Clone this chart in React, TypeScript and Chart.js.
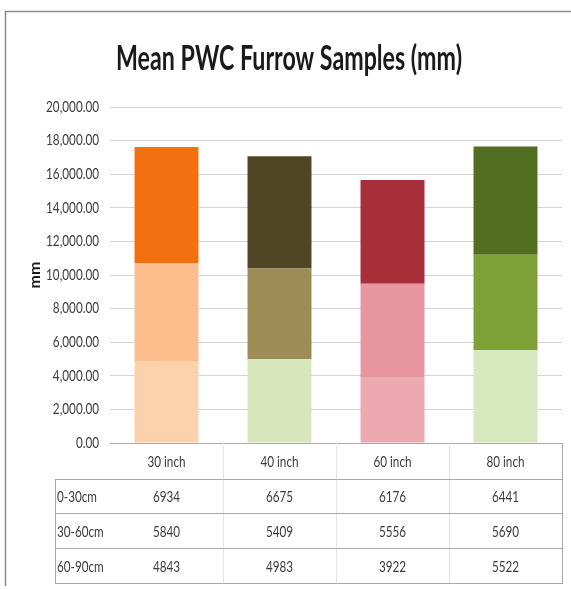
import React, { useEffect, useRef } from "react";
import { Chart, registerables } from "chart.js";

Chart.register(...registerables);

const chartTitle = "Mean PWC Furrow Samples (mm)";
const yAxisTitle = "mm";
const categories = ["30 inch", "40 inch", "60 inch", "80 inch"];
const seriesNames = ["0-30cm", "30-60cm", "60-90cm"];
const depth0to30 = [6934, 6675, 6176, 6441];
const depth30to60 = [5840, 5409, 5556, 5690];
const depth60to90 = [4843, 4983, 3922, 5522];

const colors0to30 = ["#F2700F", "#4E4624", "#A82F39", "#516E23"];
const colors30to60 = ["#FBBE8C", "#9E8C56", "#E8969F", "#7DA037"];
const colors60to90 = ["#FDD1AC", "#D8E7BB", "#ECAAB0", "#D7E8BE"];

const yMin = 0;
const yMax = 20000;
const yStep = 2000;

const FONT = "Lato, 'Open Sans', 'DejaVu Sans', sans-serif";
const TEXT_COLOR = "#3c3c3c";
const SQUEEZE = 0.78;

const tableRows = [
  { name: seriesNames[0], values: depth0to30 },
  { name: seriesNames[1], values: depth30to60 },
  { name: seriesNames[2], values: depth60to90 },
];

function drawSqueezed(
  ctx: CanvasRenderingContext2D,
  text: string,
  x: number,
  y: number,
  align: "left" | "center" | "right",
  sx: number
) {
  ctx.save();
  ctx.translate(x, y);
  ctx.scale(sx, 1);
  ctx.textAlign = align;
  ctx.fillText(text, 0, 0);
  ctx.restore();
}

const framePlugin = {
  id: "framePlugin",
  beforeDraw(chart: any) {
    const ctx = chart.ctx;
    ctx.save();
    ctx.fillStyle = "#ffffff";
    ctx.fillRect(0, 0, chart.width, chart.height);
    ctx.strokeStyle = "#8a8a8a";
    ctx.lineWidth = 1.5;
    ctx.beginPath();
    ctx.moveTo(5.5, chart.height - 3);
    ctx.lineTo(5.5, 11.5);
    ctx.lineTo(chart.width, 11.5);
    ctx.stroke();
    ctx.restore();
  },
  afterDraw(chart: any) {
    const ctx = chart.ctx;
    ctx.save();
    ctx.fillStyle = "#1a1a1a";
    ctx.font = `bold 34px ${FONT}`;
    ctx.textBaseline = "alphabetic";
    const w = ctx.measureText(chartTitle).width;
    const sx = Math.min(1, 346 / w);
    drawSqueezed(ctx, chartTitle, 289, 70, "center", sx);
    const ys = chart.scales.y;
    ctx.fillStyle = TEXT_COLOR;
    ctx.font = `15px ${FONT}`;
    ctx.textBaseline = "middle";
    ys.ticks.forEach((t: any) => {
      const label = Number(t.value).toLocaleString("en-US", {
        minimumFractionDigits: 2,
        maximumFractionDigits: 2,
      });
      drawSqueezed(ctx, label, 99, ys.getPixelForValue(t.value), "right", SQUEEZE);
    });
    ctx.restore();
  },
};

const dataTablePlugin = {
  id: "dataTablePlugin",
  afterDraw(chart: any) {
    const ctx = chart.ctx;
    const xs = chart.scales.x;
    const area = chart.chartArea;
    const n = categories.length;
    const colW = (area.right - area.left) / n;
    const labelLeft = 55;
    const rowYs = [area.bottom, 479.5, 513.5, 548.5, 583.5];
    ctx.save();
    ctx.strokeStyle = "#e2e2e2";
    ctx.lineWidth = 1;
    for (let i = 1; i < n; i++) {
      const x = Math.round(xs.getPixelForValue(i) - colW / 2) + 0.5;
      ctx.beginPath();
      ctx.moveTo(x, area.bottom);
      ctx.lineTo(x, rowYs[4]);
      ctx.stroke();
    }
    ctx.strokeStyle = "#a8a8a8";
    for (let r = 1; r < rowYs.length; r++) {
      ctx.beginPath();
      ctx.moveTo(labelLeft, rowYs[r]);
      ctx.lineTo(area.right + 1, rowYs[r]);
      ctx.stroke();
    }
    ctx.beginPath();
    ctx.moveTo(labelLeft + 0.5, rowYs[1]);
    ctx.lineTo(labelLeft + 0.5, rowYs[4]);
    ctx.stroke();
    ctx.beginPath();
    ctx.moveTo(area.right + 0.5, area.bottom);
    ctx.lineTo(area.right + 0.5, rowYs[4]);
    ctx.stroke();

    ctx.fillStyle = TEXT_COLOR;
    ctx.font = `15px ${FONT}`;
    ctx.textBaseline = "middle";
    const headY = (rowYs[0] + rowYs[1]) / 2 + 1;
    categories.forEach((c, i) => {
      drawSqueezed(ctx, c, xs.getPixelForValue(i), headY, "center", SQUEEZE);
    });
    tableRows.forEach((row, r) => {
      const cy = (rowYs[r + 1] + rowYs[r + 2]) / 2 + 1;
      drawSqueezed(ctx, row.name, labelLeft + 2, cy, "left", SQUEEZE);
      row.values.forEach((v, i) => {
        drawSqueezed(ctx, String(v), xs.getPixelForValue(i), cy, "center", SQUEEZE);
      });
    });
    ctx.restore();
  },
};

export default function App() {
  const canvasRef = useRef<HTMLCanvasElement | null>(null);

  useEffect(() => {
    const canvas = canvasRef.current;
    if (!canvas) return;
    const chart = new Chart(canvas, {
      type: "bar",
      data: {
        labels: categories,
        datasets: [
          { label: seriesNames[2], data: depth60to90, backgroundColor: colors60to90 },
          { label: seriesNames[1], data: depth30to60, backgroundColor: colors30to60 },
          { label: seriesNames[0], data: depth0to30, backgroundColor: colors0to30 },
        ],
      },
      options: {
        responsive: false,
        animation: false,
        devicePixelRatio: 1,
        layout: { padding: { top: 107, left: 0, right: 9, bottom: 5 } },
        datasets: { bar: { barPercentage: 0.566, categoryPercentage: 1 } },
        plugins: {
          legend: { display: false },
          tooltip: { enabled: false },
          title: { display: false },
        },
        scales: {
          x: {
            stacked: true,
            grid: { display: false, drawTicks: false },
            border: { display: true, color: "#a8a8a8" },
            ticks: { display: false },
            afterFit: (s: any) => {
              s.height = 141;
            },
          },
          y: {
            stacked: true,
            min: yMin,
            max: yMax,
            grid: { color: "#d4d4d4", drawTicks: false },
            border: { display: false },
            ticks: { stepSize: yStep, display: false },
            title: {
              display: true,
              text: yAxisTitle,
              color: "#1a1a1a",
              font: { family: FONT, size: 16, weight: "bold" },
              padding: { top: 25, bottom: 0 },
            },
            afterFit: (s: any) => {
              s.width = 110;
            },
          },
        },
      },
      plugins: [framePlugin, dataTablePlugin],
    });
    return () => chart.destroy();
  }, []);

  return (
    <div style={{ position: "fixed", left: 0, top: 0, width: 571, height: 589 }}>
      <canvas ref={canvasRef} width={571} height={589} style={{ width: 571, height: 589 }} />
    </div>
  );
}
